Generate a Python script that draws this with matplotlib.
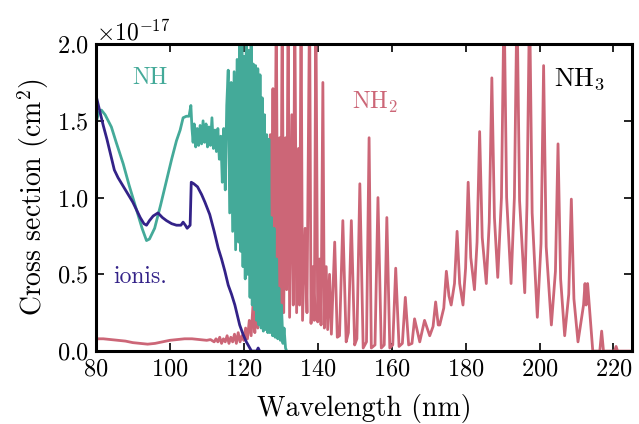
import matplotlib
matplotlib.use('Agg')
import matplotlib.pyplot as plt
import numpy as np

plt.rcParams['font.family'] = 'cmr10'
plt.rcParams['mathtext.fontset'] = 'cm'
plt.rcParams['axes.formatter.use_mathtext'] = True
plt.rcParams['axes.unicode_minus'] = False

# cross sections in units of 1e-17 cm^2
ionis_wl = [80.0, 81.0, 82.0, 83.0, 84.0, 85.0, 86.0, 87.0, 88.0, 89.0, 90.0, 91.0,
            92.0, 93.0, 93.7, 94.5, 95.5, 96.8, 98.0, 99.1, 100.5, 101.8, 103.0,
            103.6, 104.2, 104.7, 105.5, 105.8, 106.5, 107.5, 108.6, 109.5, 110.8,
            112.0, 113.1, 114.0, 114.9, 115.8, 116.7, 117.6, 118.3, 118.9, 119.8,
            120.7, 121.4, 122.1, 123.5, 123.9, 124.3]
ionis_val = [1.67, 1.57, 1.47, 1.38, 1.28, 1.18, 1.13, 1.09, 1.05, 1.01, 0.97, 0.92,
             0.87, 0.83, 0.82, 0.85, 0.88, 0.90, 0.87, 0.85, 0.83, 0.82, 0.82,
             0.84, 0.82, 0.80, 0.82, 1.10, 1.09, 1.07, 1.02, 0.97, 0.89,
             0.78, 0.67, 0.60, 0.52, 0.43, 0.37, 0.30, 0.23, 0.17, 0.11,
             0.06, 0.03, 0.0, 0.0, 0.02, 0.0]

nh_wl = [80.0, 80.7, 81.5, 82.5, 84.2, 85.5, 87.4, 89.0, 91.0, 92.5, 93.7, 94.5,
         95.9, 97.5, 99.1, 100.5, 101.8, 102.8, 103.6, 104.5, 105.2, 105.7, 106.0,
         106.3, 106.6, 107.0, 107.4, 107.8, 108.2, 108.6, 109.0, 109.4, 109.8,
         110.2, 110.6, 111.0, 111.4, 111.8, 112.2, 112.6, 113.0, 113.4, 113.8,
         114.2, 114.6, 115.0, 115.4, 115.8, 116.2, 116.6, 117.0, 117.4, 117.8,
         118.2, 118.6, 118.9, 119.2, 119.5, 119.8, 120.1, 120.4, 120.7, 121.0,
         121.4, 121.7, 122.0, 122.3, 122.6, 122.9, 123.2, 123.5, 123.8, 124.1,
         124.4, 124.7, 125.0, 125.3, 125.6, 125.9, 126.2, 126.5, 126.8, 127.1,
         127.5, 127.8, 128.2, 128.5, 128.9, 129.2, 129.5, 129.9, 130.2, 130.6,
         130.9, 131.3, 131.6]
nh_val = [1.48, 1.55, 1.57, 1.54, 1.46, 1.36, 1.22, 1.08, 0.92, 0.80, 0.72, 0.73,
          0.80, 0.95, 1.11, 1.25, 1.37, 1.44, 1.52, 1.53, 1.53, 1.60, 1.45,
          1.36, 1.48, 1.33, 1.45, 1.34, 1.47, 1.35, 1.50, 1.36, 1.48,
          1.33, 1.46, 1.34, 1.52, 1.32, 1.44, 1.30, 1.45, 1.25, 1.40,
          1.10, 1.45, 1.05, 1.60, 1.83, 0.90, 1.75, 0.78, 1.82, 0.66,
          1.90, 0.71, 2.20, 0.65, 2.20, 0.55, 1.92, 0.47, 2.20, 0.50,
          1.96, 0.35, 2.20, 0.30, 1.87, 0.27, 1.86, 0.20, 1.84, 0.17,
          1.80, 0.15, 1.65, 0.13, 1.54, 0.14, 1.41, 0.12, 1.38, 0.12,
          0.87, 0.10, 0.80, 0.09, 0.60, 0.08, 0.41, 0.07, 0.30, 0.05,
          0.15, 0.02, 0.0]

nh2_wl = [80.0, 82.0, 84.0, 86.0, 88.0, 90.0, 92.0, 94.0, 96.0, 98.0, 100.0, 102.0,
          104.0, 106.0, 108.0, 110.0, 111.0, 112.0, 112.5, 113.0, 113.5, 114.0,
          114.5, 115.0, 115.5, 116.0, 116.5, 117.0, 117.5, 118.0, 118.5, 119.0,
          119.5, 120.0, 120.5, 121.0, 121.5, 122.0, 122.5, 123.0, 123.4, 123.8,
          124.2, 124.6, 125.0, 125.4, 125.8, 126.2, 126.6, 126.9, 127.2, 127.5,
          127.9, 128.3, 128.8, 129.2, 129.7, 130.0, 130.4, 130.8, 131.3, 131.6,
          132.0, 132.4, 133.0, 133.4, 133.8, 134.3, 134.8, 135.1, 135.5, 135.9,
          136.6, 137.1, 137.8, 138.2, 138.7, 139.1, 139.5, 140.0, 140.5, 140.9,
          141.4, 141.8, 142.3, 142.7, 143.2, 143.7, 144.6, 145.3, 145.9, 146.8,
          147.7, 148.3, 149.1, 150.0, 150.6, 151.4, 152.3, 153.2, 153.9, 154.5,
          155.5, 156.3, 157.2, 158.0, 158.7, 159.5, 160.3, 161.1, 162.0, 162.9,
          163.7, 164.6, 165.5, 166.2, 167.6, 168.9, 170.3, 171.2, 171.9, 172.6,
          173.0, 174.1, 174.8, 175.5, 176.1, 177.0, 177.7, 178.4, 179.3, 180.0,
          180.7, 181.4, 182.4, 183.1, 183.8, 184.5, 185.6, 186.4, 187.1, 187.8,
          188.7, 189.7, 190.4, 191.1, 192.3, 193.2, 193.9, 194.6, 196.0, 196.6,
          197.3, 198.0, 199.4, 200.4, 201.1, 201.8, 203.2, 204.3, 205.0, 205.7,
          206.8, 207.9, 208.6, 209.3, 210.4, 211.9, 212.3, 212.6, 213.0, 214.4,
          216.3, 216.8, 217.3, 218.4, 220.3, 220.7, 221.1, 225.0]
nh2_val = [0.08, 0.08, 0.075, 0.07, 0.065, 0.055, 0.05, 0.045, 0.05, 0.06, 0.07, 0.075,
           0.08, 0.08, 0.075, 0.07, 0.075, 0.06, 0.08, 0.06, 0.09, 0.05,
           0.08, 0.06, 0.10, 0.05, 0.09, 0.06, 0.11, 0.05, 0.12, 0.06,
           0.10, 0.07, 0.15, 0.08, 0.20, 0.10, 0.30, 0.12, 0.46, 0.15,
           0.50, 0.18, 0.70, 0.22, 0.85, 0.30, 1.20, 0.45, 1.41, 0.60,
           1.71, 0.35, 2.30, 0.25, 1.39, 0.30, 2.30, 0.25, 1.39, 0.40,
           2.30, 0.22, 1.54, 0.30, 2.30, 0.25, 1.32, 0.30, 2.30, 0.20,
           0.80, 0.25, 2.30, 0.18, 0.55, 0.20, 2.30, 0.19, 0.60, 0.17,
           1.75, 0.15, 0.55, 0.14, 0.50, 0.11, 0.71, 0.09, 0.10, 0.85,
           0.06, 0.12, 0.85, 0.04, 0.08, 1.09, 0.02, 0.06, 1.39, 0.02,
           0.04, 1.00, 0.02, 0.04, 0.87, 0.02, 0.04, 0.54, 0.03, 0.05,
           0.35, 0.04, 0.05, 0.21, 0.06, 0.20, 0.10, 0.16, 0.32, 0.17,
           0.17, 0.28, 0.52, 0.36, 0.30, 0.44, 0.78, 0.44, 0.30, 0.54,
           1.10, 0.61, 0.40, 0.71, 1.43, 0.74, 0.44, 0.84, 1.78, 0.87,
           0.48, 1.00, 2.30, 1.00, 0.44, 1.00, 2.30, 0.98, 0.38, 0.95,
           2.30, 0.90, 0.22, 0.70, 1.86, 0.68, 0.17, 0.52, 1.35, 0.47,
           0.10, 0.37, 0.99, 0.34, 0.06, 0.30, 0.44, 0.30, 0.44, 0.0,
           0.0, 0.13, 0.0, 0.0, 0.0, 0.03, 0.0, 0.0]

scale = 1e-17
c_nh = '#44AA99'
c_nh2 = '#CC6677'
c_ion = '#332288'

fig = plt.figure(figsize=(6.39, 4.24), dpi=100)
ax = fig.add_axes([0.150, 0.172, 0.839, 0.724])

ax.plot(nh2_wl, np.array(nh2_val) * scale, color=c_nh2, lw=2.0)
ax.plot(nh_wl, np.array(nh_val) * scale, color=c_nh, lw=2.0)
ax.plot(ionis_wl, np.array(ionis_val) * scale, color=c_ion, lw=2.0)

ax.text(94.6, 1.78e-17, 'NH', color=c_nh, fontsize=17, ha='center', va='center')
ax.text(155.6, 1.62e-17, r'NH$_2$', color=c_nh2, fontsize=17, ha='center', va='center')
ax.text(210.8, 1.77e-17, r'NH$_3$', color='black', fontsize=19, ha='center', va='center')
ax.text(92.0, 0.48e-17, 'ionis.', color=c_ion, fontsize=17, ha='center', va='center')

ax.set_xlim(80, 225)
ax.set_ylim(0, 2e-17)
ax.set_xticks([80, 100, 120, 140, 160, 180, 200, 220])
ax.set_yticks([0, 0.5e-17, 1.0e-17, 1.5e-17, 2.0e-17])
ax.ticklabel_format(axis='y', style='sci', scilimits=(0, 0))
ax.yaxis.get_offset_text().set_fontsize(17)
ax.tick_params(direction='in', top=True, right=True, length=6, width=1.2,
               labelsize=17.5, pad=5)
for s in ax.spines.values():
    s.set_linewidth(2.2)

ax.set_xlabel('Wavelength (nm)', fontsize=20, labelpad=10)
ax.set_ylabel(r'Cross section (cm$^2$)', fontsize=20)

fig.savefig('out.png', dpi=100)
